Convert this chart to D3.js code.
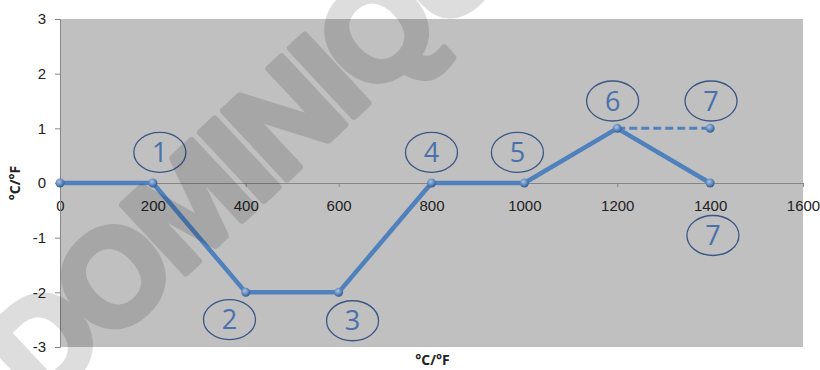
<!DOCTYPE html>
<html lang='en'>
	<head>
		<meta charset='utf-8'>
		<title>°C/°F</title>
		<script type='text/javascript' src='https://cdn.jsdelivr.net/npm/d3@7/dist/d3.min.js'></script>
		<style>
			body { margin: 0; background: white; }
			svg { display: block; font-family: 'Open Sans', 'Liberation Sans', sans-serif; }
			.axis path, .axis line { stroke: #868686; }
			.axis text { fill: #222; font-size: 15px; }
			.title { font-weight: bold; font-size: 14px; fill: #222; }
			.tag ellipse { fill: none; stroke: #3b5685; stroke-width: 1.3px; }
			.tag text { fill: #4a70ab; font-size: 27px; }
		</style>
	</head>
	<body>
		<script type='text/javascript'>
			var width = 820;
			var height = 370;

			// main curve
			var xs = [0, 200, 400, 600, 800, 1000, 1200, 1400];
			var ys = [0, 0, -2, -2, 0, 0, 1, 0];
			// dashed branch
			var dashX = [1200, 1400];
			var dashY = [1, 1];

			var xTicks = [0, 200, 400, 600, 800, 1000, 1200, 1400, 1600];
			var yTicks = [-3, -2, -1, 0, 1, 2, 3];

			// numbered circles, in data units
			var tagText = ['1', '2', '3', '4', '5', '6', '7', '7'];
			var tagX = [215, 365, 630, 800, 985, 1190, 1402, 1406];
			var tagY = [0.56, -2.5, -2.52, 0.56, 0.56, 1.5, 1.5, -0.96];

			var margin = {top: 19, right: 17, bottom: 22, left: 60};
			var x = d3.scaleLinear().domain([0, 1600]).range([margin.left, width - margin.right]);
			var y = d3.scaleLinear().domain([-3, 3]).range([height - margin.bottom - 1, margin.top]);

			var svg = d3.select('body').append('svg')
				.attr('width', width)
				.attr('height', height);

			svg.append('rect')
				.attr('x', x(0)).attr('y', y(3))
				.attr('width', x(1600) - x(0)).attr('height', y(-3) - y(3))
				.attr('fill', '#c0c0c0');

			var plain = function(d) { return String(d); };

			svg.append('g').attr('class', 'axis')
				.attr('transform', 'translate(0,' + y(0) + ')')
				.call(d3.axisBottom(x).tickValues(xTicks).tickFormat(plain).tickSize(4).tickPadding(10))
				.call(function(g) { g.selectAll('text').attr('dy', '0.9em'); });

			svg.append('g').attr('class', 'axis')
				.attr('transform', 'translate(' + x(0) + ',0)')
				.call(d3.axisLeft(y).tickValues(yTicks).tickFormat(plain).tickSize(5).tickPadding(9));

			var line = d3.line().x(function(d) { return x(d[0]); }).y(function(d) { return y(d[1]); });
			var pts = xs.map(function(v, i) { return [v, ys[i]]; });
			var dashPts = dashX.map(function(v, i) { return [v, dashY[i]]; });

			svg.append('path').datum(dashPts)
				.attr('d', line)
				.attr('fill', 'none')
				.attr('stroke', '#4f81bd')
				.attr('stroke-width', 3)
				.attr('stroke-dasharray', '8,4');

			svg.append('path').datum(pts)
				.attr('d', line)
				.attr('fill', 'none')
				.attr('stroke', '#4f81bd')
				.attr('stroke-width', 4.5)
				.attr('stroke-linejoin', 'round');

			var grad = svg.append('defs').append('radialGradient')
				.attr('id', 'ball').attr('cx', '40%').attr('cy', '35%').attr('r', '65%');
			grad.append('stop').attr('offset', '0%').attr('stop-color', '#a9c4ea');
			grad.append('stop').attr('offset', '100%').attr('stop-color', '#2f5c96');

			svg.append('g').selectAll('circle')
				.data(pts.concat([dashPts[1]]))
				.enter().append('circle')
				.attr('cx', function(d) { return x(d[0]); })
				.attr('cy', function(d) { return y(d[1]); })
				.attr('r', 4.5)
				.attr('fill', 'url(#ball)');

			var tags = svg.append('g').selectAll('g')
				.data(tagText)
				.enter().append('g').attr('class', 'tag')
				.attr('transform', function(d, i) { return 'translate(' + x(tagX[i]) + ',' + y(tagY[i]) + ')'; });
			tags.append('ellipse').attr('rx', 26).attr('ry', 20);
			tags.append('text').attr('text-anchor', 'middle').attr('dy', '0.36em').text(function(d) { return d; });

			svg.append('text').attr('class', 'title')
				.attr('text-anchor', 'middle')
				.attr('x', (x(0) + x(1600)) / 2 + 1).attr('y', 365)
				.text('°C/°F');

			svg.append('text').attr('class', 'title')
				.attr('text-anchor', 'middle')
				.attr('transform', 'translate(20,' + y(0) + ') rotate(-90)')
				.text('°C/°F');

			// watermark
			svg.append('g').attr('opacity', 0.13)
				.append('text')
				.attr('transform', 'translate(40,409) rotate(-43)')
				.attr('font-family', 'Liberation Sans, Arial, sans-serif')
				.attr('font-weight', 'bold')
				.attr('font-size', 135)
				.attr('letter-spacing', -6)
				.attr('fill', '#000')
				.attr('stroke', '#000')
				.attr('stroke-width', 7)
				.attr('stroke-linejoin', 'round')
				.text('DOMINIQUE');
		</script>
	</body>
</html>
